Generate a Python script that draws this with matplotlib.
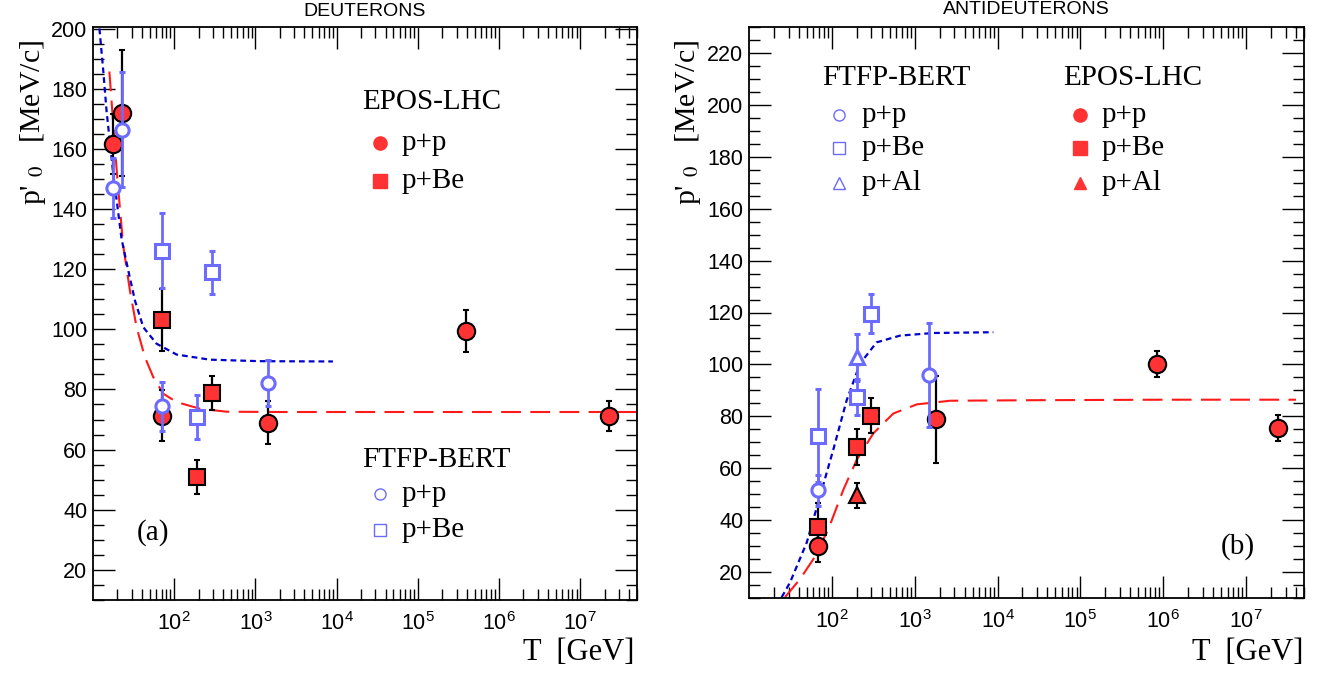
import numpy as np
import matplotlib
matplotlib.use("Agg")
import matplotlib.pyplot as plt
from matplotlib.ticker import MultipleLocator, LogLocator, NullFormatter

plt.rcParams['mathtext.fontset'] = 'custom'
plt.rcParams['mathtext.rm'] = 'Liberation Sans'
plt.rcParams['mathtext.it'] = 'Liberation Sans:italic'
plt.rcParams['font.family'] = ['Liberation Sans', 'DejaVu Sans']

# ---------------- data: DEUTERONS (a) ----------------
d_epos_pp_T = [17.5, 22.5, 70, 1430, 3.9e5, 2.24e7]
d_epos_pp_p = [161.5, 171.8, 71.3, 69.0, 99.3, 71.2]
d_epos_pp_e = [10.0, 21.0, 8.5, 7.0, 7.0, 5.0]

d_epos_pbe_T = [70, 190, 290]
d_epos_pbe_p = [103.1, 51.0, 78.8]
d_epos_pbe_e = [10.2, 5.7, 5.7]

d_ftfp_pp_T = [17.5, 22.5, 70, 1430]
d_ftfp_pp_p = [146.9, 166.4, 74.4, 82.2]
d_ftfp_pp_e = [10.0, 19.0, 8.2, 7.6]

d_ftfp_pbe_T = [70, 190, 290]
d_ftfp_pbe_p = [126.1, 70.8, 118.9]
d_ftfp_pbe_e = [12.5, 7.3, 7.2]

d_epos_fit_T = [15.9, 19.9, 23.5, 28.5, 34.4, 43.6, 55.2, 73.3, 107, 207, 441, 2000, 1e5, 5e7]
d_epos_fit_p = [185.7, 150.3, 128.0, 112.8, 100.7, 90.7, 84.1, 78.6, 75.8, 73.6, 72.6, 72.5, 72.5, 72.5]

d_ftfp_fit_T = [12.0, 13.4, 14.7, 17.8, 22.5, 27.2, 32.9, 41.6, 60.7, 107, 275, 1120, 9000]
d_ftfp_fit_p = [200.0, 185.7, 172.5, 151.5, 130.0, 119.5, 109.5, 100.7, 95.2, 91.6, 89.9, 89.4, 89.3]

# ---------------- data: ANTIDEUTERONS (b) ----------------
a_epos_pp_T = [69, 1800, 8.5e5, 2.4e7]
a_epos_pp_p = [30.0, 78.8, 100.0, 75.5]
a_epos_pp_e = [6.0, 16.6, 5.0, 5.0]

a_epos_pbe_T = [69, 200, 300]
a_epos_pbe_p = [37.5, 68.3, 80.2]
a_epos_pbe_e = [9.0, 7.0, 6.8]

a_epos_pal_T = [200]
a_epos_pal_p = [49.5]
a_epos_pal_e = [5.0]

a_ftfp_pp_T = [69, 1490]
a_ftfp_pp_p = [51.5, 95.8]
a_ftfp_pp_e = [6.0, 20.0]

a_ftfp_pbe_T = [69, 200, 300]
a_ftfp_pbe_p = [72.6, 87.5, 119.6]
a_ftfp_pbe_e = [18.0, 7.0, 7.6]

a_ftfp_pal_T = [200]
a_ftfp_pal_p = [102.8]
a_ftfp_pal_e = [9.0]

a_epos_fit_T = [27.2, 41.3, 59.9, 90.8, 138, 200, 318, 553, 1060, 2680, 24500, 1e6, 4e7]
a_epos_fit_p = [10.3, 17.3, 25.0, 36.5, 51.8, 63.3, 73.5, 81.1, 84.6, 86.0, 86.2, 86.4, 86.4]

a_ftfp_fit_T = [24.8, 31.3, 49.8, 71.9, 104, 151, 219, 347, 667, 1680, 8900]
a_ftfp_fit_p = [10.3, 16.0, 31.4, 49.2, 67.1, 86.2, 100.3, 108.5, 111.1, 112.1, 112.4]

RED = '#ff3333'
BLUE = '#6b6bff'
RED_LINE = '#ff1a1a'
BLUE_LINE = '#0000cc'

fig = plt.figure(figsize=(13.28, 6.75), dpi=100)
axL = fig.add_axes([93/1328, 75/675, 544/1328, 573/675])
axR = fig.add_axes([749/1328, 77/675, 555/1328, 571/675])

tick_font = dict(family='Liberation Sans', size=15.5)
serif = 'Liberation Serif'


def style_axes(ax, ymin, ymax, ytop_label):
    ax.set_xscale('log')
    ax.set_xlim(10, 5e7)
    ax.set_ylim(ymin, ymax)
    ax.yaxis.set_major_locator(MultipleLocator(20))
    ax.yaxis.set_minor_locator(MultipleLocator(5))
    ax.xaxis.set_major_locator(LogLocator(base=10, numticks=20))
    ax.xaxis.set_minor_locator(LogLocator(base=10, subs=np.arange(2, 10), numticks=100))
    ax.xaxis.set_minor_formatter(NullFormatter())
    ax.tick_params(which='both', direction='in', top=True, right=True, width=1.0, color='black')
    ax.tick_params(which='major', length=16)
    ax.tick_params(which='minor', length=8)
    ax.tick_params(axis='y', which='major', pad=4)
    ax.tick_params(axis='x', which='major', pad=9)
    xt = [1e2, 1e3, 1e4, 1e5, 1e6, 1e7]
    ax.set_xticks(xt)
    ax.set_xticklabels([r'$\mathregular{10^{%d}}$' % k for k in range(2, 8)], fontsize=15.5,
                       family='Liberation Sans')
    yt = list(range(20, ytop_label + 1, 20))
    ax.set_yticks(yt)
    ax.set_yticklabels([str(v) for v in yt], **tick_font)
    for s in ax.spines.values():
        s.set_linewidth(1.3)


style_axes(axL, 10, 200.5, 200)
style_axes(axR, 10, 230, 220)

ls_red = (0, (9.5, 4.5))
ls_blue = (0, (2.6, 1.8))


def red_pts(ax, T, p, e, marker, ms):
    ax.errorbar(T, p, yerr=e, fmt=marker, ms=ms, mfc=RED, mec='black', mew=1.5,
                ecolor='black', elinewidth=1.6, capsize=2.5, capthick=1.6, zorder=4)


def blue_pts(ax, T, p, e, marker, ms):
    ax.errorbar(T, p, yerr=e, fmt=marker, ms=ms, mfc='white', mec=BLUE, mew=2.2,
                ecolor=BLUE, elinewidth=2.0, capsize=2.5, capthick=1.6, zorder=5)


# ---- left panel
axL.plot(d_epos_fit_T, d_epos_fit_p, color=RED_LINE, lw=1.5, ls=ls_red, zorder=2)
axL.plot(d_ftfp_fit_T, d_ftfp_fit_p, color=BLUE_LINE, lw=1.6, ls=ls_blue, zorder=2)
red_pts(axL, d_epos_pp_T, d_epos_pp_p, d_epos_pp_e, 'o', 12.5)
red_pts(axL, d_epos_pbe_T, d_epos_pbe_p, d_epos_pbe_e, 's', 12)
blue_pts(axL, d_ftfp_pp_T, d_ftfp_pp_p, d_ftfp_pp_e, 'o', 9.5)
blue_pts(axL, d_ftfp_pbe_T, d_ftfp_pbe_p, d_ftfp_pbe_e, 's', 9.5)

# ---- right panel
axR.plot(a_epos_fit_T, a_epos_fit_p, color=RED_LINE, lw=1.5, ls=ls_red, zorder=2)
axR.plot(a_ftfp_fit_T, a_ftfp_fit_p, color=BLUE_LINE, lw=1.6, ls=ls_blue, zorder=2)
red_pts(axR, a_epos_pp_T, a_epos_pp_p, a_epos_pp_e, 'o', 12.5)
red_pts(axR, a_epos_pbe_T, a_epos_pbe_p, a_epos_pbe_e, 's', 12)
red_pts(axR, a_epos_pal_T, a_epos_pal_p, a_epos_pal_e, '^', 11)
blue_pts(axR, a_ftfp_pp_T, a_ftfp_pp_p, a_ftfp_pp_e, 'o', 9.5)
blue_pts(axR, a_ftfp_pbe_T, a_ftfp_pbe_p, a_ftfp_pbe_e, 's', 9.5)
blue_pts(axR, a_ftfp_pal_T, a_ftfp_pal_p, a_ftfp_pal_e, '^', 10)

# ---- legends (manual, ROOT style)
LFS = 21


def legend_block(ax, title, x_title, y_title, x_mark, x_text, ys, entries):
    ax.text(x_title, y_title, title, transform=ax.transAxes, family=serif, fontsize=LFS,
            ha='left', va='center')
    for y, (lab, mk, filled) in zip(ys, entries):
        if filled:
            ax.plot([x_mark], [y], marker=mk, ms=9.5 if mk != '^' else 9, mfc=RED, mec=RED,
                    transform=ax.transAxes, clip_on=False, ls='none')
        else:
            ax.plot([x_mark], [y], marker=mk, ms=8 if mk != '^' else 8.5, mfc='white', mec=BLUE,
                    mew=1.0, transform=ax.transAxes, clip_on=False, ls='none')
        ax.text(x_text, y, lab, transform=ax.transAxes, family=serif, fontsize=LFS,
                ha='left', va='center')


legend_block(axL, 'EPOS-LHC', 0.494, 0.869, 0.5276, 0.568, [0.7976, 0.731],
             [('p+p', 'o', True), ('p+Be', 's', True)])
legend_block(axL, 'FTFP-BERT', 0.494, 0.2443, 0.5276, 0.568, [0.185, 0.122],
             [('p+p', 'o', False), ('p+Be', 's', False)])
legend_block(axR, 'FTFP-BERT', 0.1314, 0.9107, 0.1622, 0.2036, [0.8459, 0.788, 0.7268],
             [('p+p', 'o', False), ('p+Be', 's', False), ('p+Al', '^', False)])
legend_block(axR, 'EPOS-LHC', 0.5658, 0.9107, 0.5964, 0.636, [0.8459, 0.788, 0.7268],
             [('p+p', 'o', True), ('p+Be', 's', True), ('p+Al', '^', True)])

axL.text(0.110, 0.117, '(a)', transform=axL.transAxes, family=serif, fontsize=LFS,
         ha='center', va='center')
axR.text(0.881, 0.091, '(b)', transform=axR.transAxes, family=serif, fontsize=LFS,
         ha='center', va='center')

# ---- axis labels and titles
ylab = "p' $_{0}$   [MeV/c]"
for xpx in (33, 688):
    fig.text(xpx/1328, (675-40)/675, ylab, rotation=90, ha='center', va='top',
             family=serif, fontsize=21.5, math_fontfamily='stix')
for xpx in (634, 1303):
    fig.text(xpx/1328, (675-652)/675, 'T  [GeV]', ha='right', va='center',
             family=serif, fontsize=22)

fig.text(365/1328, (675-12)/675, 'DEUTERONS', ha='center', va='center',
         family='Liberation Sans', fontsize=14)
fig.text(1026/1328, (675-10)/675, 'ANTIDEUTERONS', ha='center', va='center',
         family='Liberation Sans', fontsize=14)

fig.savefig('out.png', dpi=100)
